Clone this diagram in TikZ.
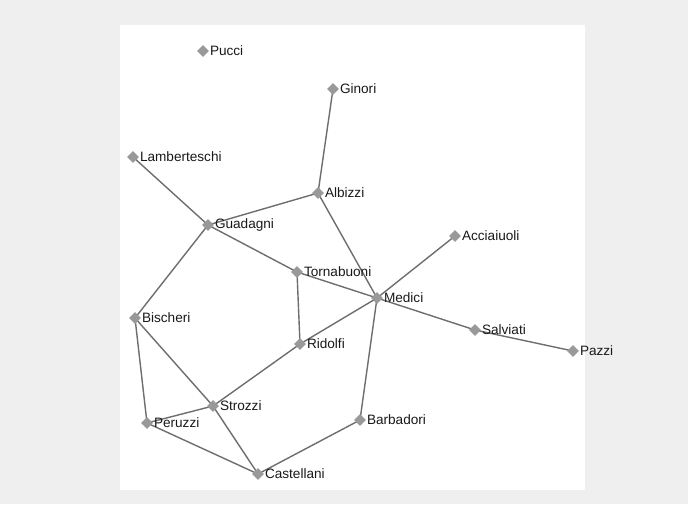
\documentclass[tikz,border=0pt]{standalone}
\usepackage{fontspec}
\setmainfont{Liberation Sans}
\usetikzlibrary{shapes.geometric,backgrounds}
\definecolor{panelgray}{HTML}{EFEFEF}
\definecolor{nodegray}{HTML}{999999}
\definecolor{edgegray}{HTML}{6E6E6E}

\tikzset{
  family/.style={diamond,fill=nodegray,inner sep=0pt,
    minimum width=12pt,minimum height=12pt,
    label={[familyname]right:#1}},
  familyname/.style={shape=rectangle,fill=none,inner sep=0.6pt,
    label distance=0pt,text=black!90,font=\fontsize{13.6}{15}\selectfont},
  tie/.style={draw=edgegray,line width=1.4pt}
}

\begin{document}
\begin{tikzpicture}[x=1pt,y=-1pt]
  \useasboundingbox (0,0) rectangle (688,504);
  \node[family=Pucci] (Pucci) at (203,51) {};
  \node[family=Ginori] (Ginori) at (333,89) {};
  \node[family=Lamberteschi] (Lamberteschi) at (133,157) {};
  \node[family=Albizzi] (Albizzi) at (318,193) {};
  \node[family=Guadagni] (Guadagni) at (208,225) {};
  \node[family=Acciaiuoli] (Acciaiuoli) at (455,236) {};
  \node[family=Tornabuoni] (Tornabuoni) at (297,272) {};
  \node[family=Medici] (Medici) at (377,298) {};
  \node[family=Bischeri] (Bischeri) at (135,318) {};
  \node[family=Salviati] (Salviati) at (475,330) {};
  \node[family=Pazzi] (Pazzi) at (573,351) {};
  \node[family=Ridolfi] (Ridolfi) at (300,344) {};
  \node[family=Strozzi] (Strozzi) at (213,406) {};
  \node[family=Peruzzi] (Peruzzi) at (147,423) {};
  \node[family=Barbadori] (Barbadori) at (360,420) {};
  \node[family=Castellani] (Castellani) at (258,474) {};

  \begin{scope}[on background layer]
    \fill[panelgray] (0,0) rectangle (688,504);
    \fill[white] (120,25) rectangle (585,490);

    \draw[tie] (Ginori.center) -- (Albizzi.center);
    \draw[tie] (Lamberteschi.center) -- (Guadagni.center);
    \draw[tie] (Albizzi.center) -- (Guadagni.center);
    \draw[tie] (Albizzi.center) -- (Medici.center);
    \draw[tie] (Guadagni.center) -- (Tornabuoni.center);
    \draw[tie] (Guadagni.center) -- (Bischeri.center);
    \draw[tie] (Acciaiuoli.center) -- (Medici.center);
    \draw[tie] (Tornabuoni.center) -- (Medici.center);
    \draw[tie] (Tornabuoni.center) -- (Ridolfi.center);
    \draw[tie] (Medici.center) -- (Salviati.center);
    \draw[tie] (Salviati.center) -- (Pazzi.center);
    \draw[tie] (Medici.center) -- (Ridolfi.center);
    \draw[tie] (Medici.center) -- (Barbadori.center);
    \draw[tie] (Ridolfi.center) -- (Strozzi.center);
    \draw[tie] (Bischeri.center) -- (Strozzi.center);
    \draw[tie] (Bischeri.center) -- (Peruzzi.center);
    \draw[tie] (Peruzzi.center) -- (Strozzi.center);
    \draw[tie] (Peruzzi.center) -- (Castellani.center);
    \draw[tie] (Strozzi.center) -- (Castellani.center);
    \draw[tie] (Barbadori.center) -- (Castellani.center);
  \end{scope}
\end{tikzpicture}
\end{document}
